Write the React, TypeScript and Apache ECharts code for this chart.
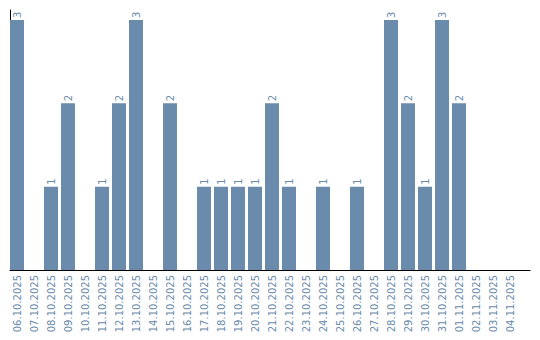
import React, { useEffect, useRef } from "react";
import * as echarts from "echarts";

const categories = [
  "06.10.2025", "07.10.2025", "08.10.2025", "09.10.2025", "10.10.2025",
  "11.10.2025", "12.10.2025", "13.10.2025", "14.10.2025", "15.10.2025",
  "16.10.2025", "17.10.2025", "18.10.2025", "19.10.2025", "20.10.2025",
  "21.10.2025", "22.10.2025", "23.10.2025", "24.10.2025", "25.10.2025",
  "26.10.2025", "27.10.2025", "28.10.2025", "29.10.2025", "30.10.2025",
  "31.10.2025", "01.11.2025", "02.11.2025", "03.11.2025", "04.11.2025",
];
const values = [3, 0, 1, 2, 0, 1, 2, 3, 0, 2, 0, 1, 1, 1, 1, 2, 1, 0, 1, 0, 1, 0, 3, 2, 1, 3, 2, 0, 0, 0];

const BAR = "#6a8bab";
const TEXT = "#6a8bab";

export default function App() {
  const ref = useRef<HTMLDivElement>(null);
  useEffect(() => {
    document.body.style.margin = "0";
    const chart = echarts.init(ref.current!, null, { renderer: "svg" });
    chart.setOption({
      animation: false,
      grid: [
        { left: 8.5, width: 510, top: 10, height: 260 },
        { left: 10, width: 520, top: 10, height: 260 },
      ],
      xAxis: [
        {
          type: "category",
          gridIndex: 0,
          data: categories,
          axisLine: { show: false },
          axisTick: { show: false },
          axisLabel: {
            interval: 0,
            rotate: 90,
            margin: 5,
            color: TEXT,
            fontFamily: "DejaVu Sans",
            fontSize: 10,
          },
        },
        {
          type: "value",
          gridIndex: 1,
          min: 0,
          max: 1,
          axisLine: { show: true, onZero: false, lineStyle: { color: "#000", width: 1 } },
          axisTick: { show: false },
          axisLabel: { show: false },
          splitLine: { show: false },
        },
      ],
      yAxis: [
        {
          type: "value",
          gridIndex: 0,
          min: 0,
          max: 3.12,
          show: false,
        },
        {
          type: "value",
          gridIndex: 1,
          min: 0,
          max: 1,
          axisLine: { show: true, lineStyle: { color: "#000", width: 1 } },
          axisTick: { show: false },
          axisLabel: { show: false },
          splitLine: { show: false },
        },
      ],
      series: [
        {
          type: "bar",
          xAxisIndex: 0,
          yAxisIndex: 0,
          data: values,
          barWidth: 14,
          itemStyle: { color: BAR },
          z: 3,
          label: {
            show: true,
            position: "top",
            rotate: 90,
            align: "left",
            verticalAlign: "middle",
            distance: 2,
            color: TEXT,
            fontFamily: "DejaVu Sans",
            fontSize: 10,
            formatter: (p: any) => (p.value ? String(p.value) : ""),
          },
        },
      ],
    });
    return () => chart.dispose();
  }, []);
  return <div ref={ref} style={{ width: 540, height: 340 }} />;
}
